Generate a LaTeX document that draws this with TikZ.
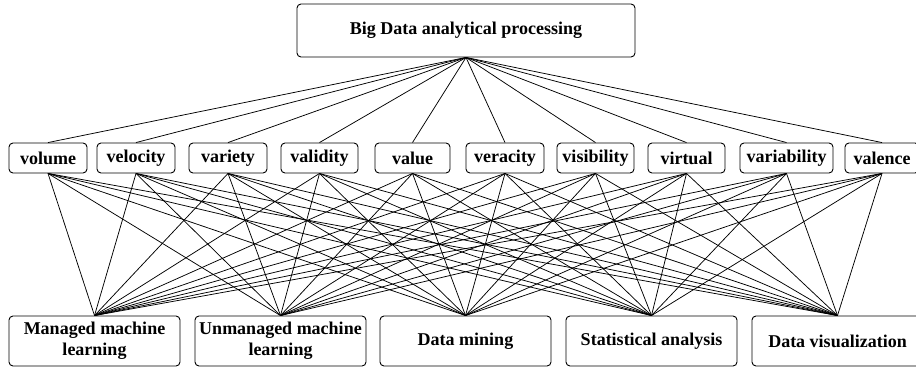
\documentclass[tikz,border=0pt]{standalone}
\usepackage{fontspec}
\setmainfont{Liberation Serif}
\begin{document}
\begin{tikzpicture}[x=1pt,y=-1pt,
  box/.style={draw=black, line width=0.9pt, rounded corners=4pt, inner sep=0pt,
    align=center, font=\fontsize{18}{21}\selectfont\bfseries},
  vbox/.style={box, minimum height=30pt},
  abox/.style={box, minimum width=171pt, minimum height=50pt},
  link/.style={line width=0.75pt, draw=black}]
\useasboundingbox (0,0) rectangle (916,367);
\clip (0,0) rectangle (916,367);

% root
\node[box, minimum width=338pt, minimum height=53pt] (root) at (466,30.5) {Big Data analytical processing};

% the ten V's
\node[vbox, minimum width=78pt] (v1) at (48,158) {volume};
\node[vbox, minimum width=78pt] (v2) at (136,158) {velocity};
\node[vbox, minimum width=78pt] (v3) at (228,158) {variety};
\node[vbox, minimum width=77pt] (v4) at (319.5,158) {validity};
\node[vbox, minimum width=75pt] (v5) at (412.5,158) {value};
\node[vbox, minimum width=78pt] (v6) at (505,158) {veracity};
\node[vbox, minimum width=77pt] (v7) at (595.5,158) {visibility};
\node[vbox, minimum width=77pt] (v8) at (686.5,158) {virtual};
\node[vbox, minimum width=93pt] (v9) at (786.5,158) {variability};
\node[vbox, minimum width=74pt] (v10) at (882,158) {valence};

% analysis methods
\node[abox] (a1) at (94.5,341) {Managed machine\\learning};
\node[abox] (a2) at (280.5,341) {Unmanaged machine\\learning};
\node[abox] (a3) at (465.5,341) {Data mining};
\node[abox] (a4) at (651.5,341) {Statistical analysis};
\node[abox] (a5) at (837.5,341) {Data visualization};

% connectors
\foreach \i in {1,...,10} {
  \draw[link] (root.south) -- (v\i.north);
  \foreach \j in {1,...,5} {
    \draw[link] (v\i.south) -- (a\j.north);
  }
}
\end{tikzpicture}
\end{document}
